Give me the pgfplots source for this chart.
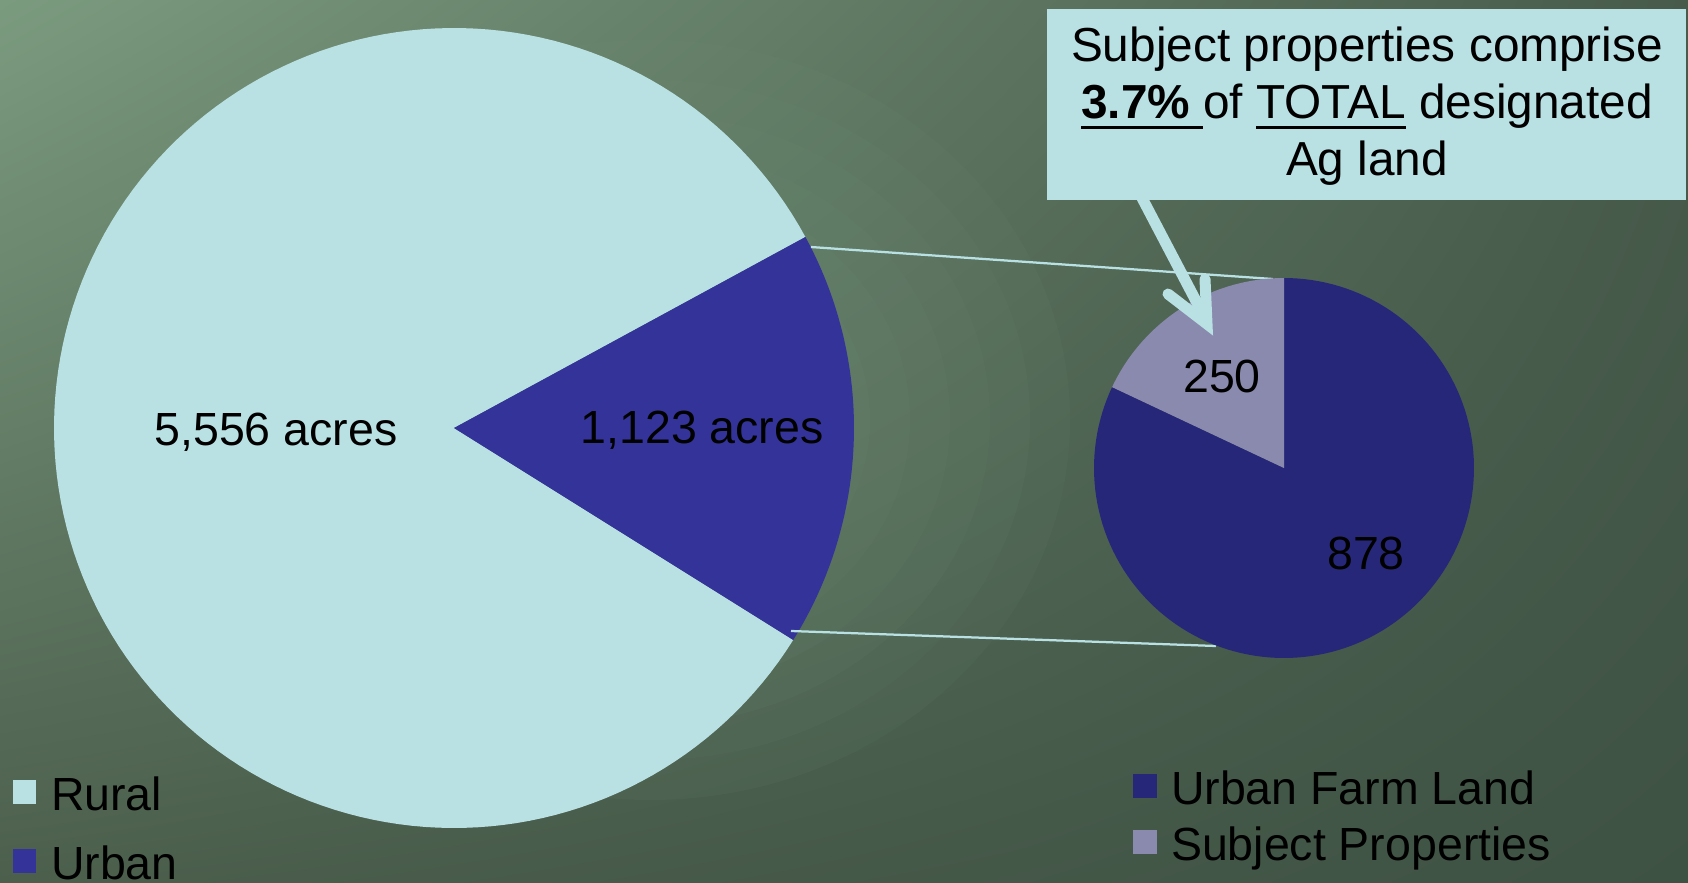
\documentclass[border=0pt]{standalone}
\usepackage{pgfplots}
\pgfplotsset{compat=1.18}
\usepackage{fontspec}
\setmainfont{Liberation Sans}
\usetikzlibrary{shadings}
\definecolor{rural}{HTML}{B9E1E4}
\definecolor{urban}{HTML}{343399}
\definecolor{farm}{HTML}{27277A}
\definecolor{subj}{HTML}{8A8AAE}
\definecolor{bgUL}{HTML}{7B9B7F}
\definecolor{bgUR}{HTML}{485B4B}
\definecolor{bgLL}{HTML}{4C5F4D}
\definecolor{bgLR}{HTML}{3E5244}
\definecolor{glow}{HTML}{789880}
\newcommand{\myul}[1]{\setbox0\hbox{#1}\rlap{\raisebox{-2.2pt}{\rule{\wd0}{0.75pt}}}\box0\relax}
\begin{document}
\begin{tikzpicture}
% pie values (acres)
\pgfmathsetmacro{\Rural}{5556}
\pgfmathsetmacro{\Urban}{1123}
\pgfmathsetmacro{\Ushare}{\Urban/(\Rural+\Urban)}
\pgfmathsetmacro{\Uang}{360*\Ushare}
\pgfmathsetmacro{\Ustart}{-32.0}
\pgfmathsetmacro{\Uend}{\Ustart+\Uang}
\pgfmathsetmacro{\Rend}{\Ustart+360}
% second pie: split of the urban slice (angles as drawn)
\def\Sstart{90}
\def\Send{154.8}
\def\Fend{450}
\begin{axis}[x=0.2pt, y=0.2pt, y dir=reverse, xmin=0, xmax=1688, ymin=0, ymax=883,
  hide axis, clip=false]
% background
\shade[upper left=bgUL, upper right=bgUR, lower left=bgLL, lower right=bgLR]
  (axis cs:0,0) rectangle (axis cs:1688,883);
\fill[glow, opacity=0.07] (axis cs:650,420) ellipse [x radius=84pt, y radius=76pt];
\fill[glow, opacity=0.07] (axis cs:650,420) ellipse [x radius=76pt, y radius=68pt];
\fill[glow, opacity=0.07] (axis cs:650,420) ellipse [x radius=68pt, y radius=61pt];
\fill[glow, opacity=0.07] (axis cs:650,420) ellipse [x radius=60pt, y radius=54pt];
\fill[glow, opacity=0.07] (axis cs:650,420) ellipse [x radius=52pt, y radius=47pt];
\fill[glow, opacity=0.07] (axis cs:650,420) ellipse [x radius=44pt, y radius=40pt];
\fill[glow, opacity=0.07] (axis cs:650,420) ellipse [x radius=36pt, y radius=32pt];
\fill[glow, opacity=0.07] (axis cs:650,420) ellipse [x radius=28pt, y radius=25pt];
\fill[glow, opacity=0.07] (axis cs:650,420) ellipse [x radius=20pt, y radius=18pt];
\fill[glow, opacity=0.07] (axis cs:650,420) ellipse [x radius=12pt, y radius=11pt];
% big pie
\addplot[draw=none, fill=rural, domain=\Uend:\Rend, samples=160, variable=\t]
  ({454+400*cos(t)}, {428-400*sin(t)}) -- (axis cs:454,428) -- cycle;
\addplot[draw=none, fill=urban, domain=\Ustart:\Uend, samples=60, variable=\t]
  ({454+400*cos(t)}, {428-400*sin(t)}) -- (axis cs:454,428) -- cycle;
% connector lines
\draw[rural, line width=0.45pt] (axis cs:811,247) -- (axis cs:1273,279);
\draw[rural, line width=0.45pt] (axis cs:791,631) -- (axis cs:1216,646);
% small pie
\addplot[draw=none, fill=farm, domain=\Send:\Fend, samples=140, variable=\t]
  ({1284+190*cos(t)}, {468-190*sin(t)}) -- (axis cs:1284,468) -- cycle;
\addplot[draw=none, fill=subj, domain=\Sstart:\Send, samples=40, variable=\t]
  ({1284+190*cos(t)}, {468-190*sin(t)}) -- (axis cs:1284,468) -- cycle;
% slice labels
\begin{scope}[every node/.style={inner sep=0pt, text height=0.72em, text depth=0pt,
   font=\fontsize{9.3}{11}\selectfont, text=black}]
\node at (axis cs:276,427) {5,556 acres};
\node at (axis cs:702,425) {1,123 acres};
\node at (axis cs:1222,374) {250};
\node at (axis cs:1366,551) {878};
% legends
\fill[rural] (axis cs:13,780) rectangle (axis cs:36,804);
\node[anchor=west] at (axis cs:50,792) {Rural};
\fill[urban] (axis cs:13,849) rectangle (axis cs:36,873);
\node[anchor=west] at (axis cs:50,861) {Urban};
\fill[farm] (axis cs:1133,774) rectangle (axis cs:1157,798);
\node[anchor=west] at (axis cs:1170,786) {Urban Farm Land};
\fill[subj] (axis cs:1133,830) rectangle (axis cs:1157,854);
\node[anchor=west] at (axis cs:1170,842) {Subject Properties};
\end{scope}
% callout
\fill[rural] (axis cs:1047,9) rectangle (axis cs:1686,200);
\node[align=center, inner sep=0pt, font=\fontsize{9.55}{11.4}\selectfont] at (axis cs:1367,106)
  {Subject properties comprise\\ \myul{\textbf{3.7\%}\ }of \myul{TOTAL} designated\\ Ag land};
\draw[rural, line width=2.2pt, line cap=round] (axis cs:1141,196) -- (axis cs:1206,320);
\draw[rural, line width=2.2pt, line cap=round, line join=miter]
  (axis cs:1168,294) -- (axis cs:1207,324) -- (axis cs:1205,279);
\end{axis}
\end{tikzpicture}
\end{document}
